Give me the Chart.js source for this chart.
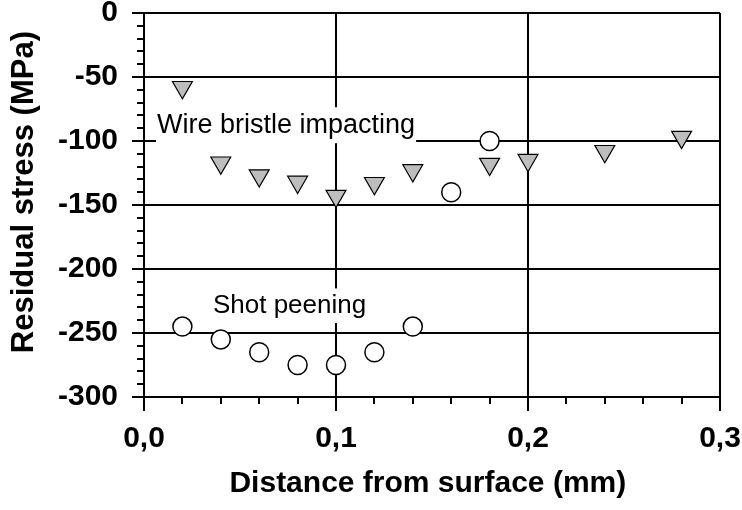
<!DOCTYPE html>
<html lang="en">
<head>
<meta charset="UTF-8">
<title>Residual stress</title>
<script src="https://cdn.jsdelivr.net/npm/chart.js@4.4.1/dist/chart.umd.min.js"></script>
<style>
  html, body { margin: 0; padding: 0; background: #fff; }
  #wrap { width: 742px; height: 510px; }
</style>
</head>
<body>
<div id="wrap"><canvas id="chart"></canvas></div>
<script>
// wire bristle impacting (grey triangles)
const wireX = [0.02, 0.04, 0.06, 0.08, 0.10, 0.12, 0.14, 0.18, 0.20, 0.24, 0.28];
const wireY = [-58, -117, -127, -132, -143, -133, -123, -118, -115, -108, -97];

// shot peening (open circles)
const shotX = [0.02, 0.04, 0.06, 0.08, 0.10, 0.12, 0.14, 0.16, 0.18];
const shotY = [-245, -255, -265, -275, -275, -265, -245, -140, -100];

const xTicks = [0, 0.1, 0.2, 0.3];
const yTicks = [0, -50, -100, -150, -200, -250, -300];

// text written inside the plot, anchored in data units (left edge, baseline)
const notes = [
    { text: 'Wire bristle impacting', x: 0.0068, y: -93.7, size: 27 },
    { text: 'Shot peening', x: 0.0359, y: -234.5, size: 26 }
];

const FONT = '"Liberation Sans", Arial, sans-serif';

const extras = {
    id: 'extras',
    beforeDatasetsDraw(chart) {
        const { ctx, scales: { x, y } } = chart;
        ctx.save();
        notes.forEach(n => {
            ctx.font = n.size + 'px ' + FONT;
            const w = ctx.measureText(n.text).width;
            const px = x.getPixelForValue(n.x);
            const py = y.getPixelForValue(n.y);
            // white box hides the grid lines behind the text
            ctx.fillStyle = '#fff';
            ctx.fillRect(px - 1, py - n.size * 0.95, w + 2, n.size * 1.33);
            ctx.fillStyle = '#000';
            ctx.textBaseline = 'alphabetic';
            ctx.textAlign = 'left';
            ctx.fillText(n.text, px, py);
        });
        ctx.restore();
    },
    afterDraw(chart) {
        const { ctx, chartArea, scales: { x, y } } = chart;
        ctx.save();
        ctx.strokeStyle = '#000';
        ctx.lineWidth = 2;
        ctx.beginPath();
        // minor ticks on x every 0.02
        for (let i = 1; i < 15; i++) {
            if (i % 5 === 0) continue;
            const px = Math.round(x.getPixelForValue(i * 0.02));
            ctx.moveTo(px, chartArea.bottom);
            ctx.lineTo(px, chartArea.bottom + 7);
        }
        // minor ticks on y every 10
        for (let i = 1; i < 30; i++) {
            if (i % 5 === 0) continue;
            const py = Math.round(y.getPixelForValue(-10 * i));
            ctx.moveTo(chartArea.left - 7, py);
            ctx.lineTo(chartArea.left, py);
        }
        ctx.stroke();
        ctx.restore();
    }
};

new Chart(document.getElementById('chart'), {
    type: 'scatter',
    data: {
        datasets: [
            {
                label: 'Wire bristle impacting',
                data: wireX.map((v, i) => ({ x: v, y: wireY[i] })),
                pointStyle: 'triangle',
                rotation: 180,
                pointRadius: 11.5,
                pointHoverRadius: 11.5,
                backgroundColor: '#bdbdbd',
                borderColor: '#000',
                borderWidth: 1.2
            },
            {
                label: 'Shot peening',
                data: shotX.map((v, i) => ({ x: v, y: shotY[i] })),
                pointStyle: 'circle',
                pointRadius: 9.5,
                pointHoverRadius: 9.5,
                backgroundColor: '#fff',
                borderColor: '#000',
                borderWidth: 1.5
            }
        ]
    },
    options: {
        responsive: true,
        maintainAspectRatio: false,
        animation: false,
        events: [],
        layout: { padding: { top: 13, right: 22, bottom: 0, left: 0 } },
        plugins: {
            legend: { display: false },
            tooltip: { enabled: false }
        },
        scales: {
            x: {
                type: 'linear',
                min: 0,
                max: 0.3,
                afterBuildTicks: s => { s.ticks = xTicks.map(v => ({ value: v })); },
                afterFit: s => { s.height = 113; s.paddingLeft = 0; s.paddingRight = 0; },
                ticks: {
                    callback: v => v.toFixed(1).replace('.', ','),
                    color: '#000',
                    font: { family: FONT, size: 30, weight: 'bold' },
                    padding: 10,
                    maxRotation: 0,
                    autoSkip: false
                },
                grid: { color: '#000', lineWidth: 2, tickLength: 14 },
                border: { color: '#000', width: 2 },
                title: {
                    display: true,
                    text: 'Distance from surface (mm) ',
                    color: '#000',
                    font: { family: FONT, size: 30, weight: 'bold' },
                    padding: { top: 0, bottom: 8 }
                }
            },
            y: {
                type: 'linear',
                min: -300,
                max: 0,
                afterBuildTicks: s => { s.ticks = yTicks.map(v => ({ value: v })); },
                afterFit: s => { s.width = 144; s.paddingTop = 0; s.paddingBottom = 0; },
                ticks: {
                    callback: v => String(v),
                    color: '#000',
                    font: { family: FONT, size: 30, weight: 'bold' },
                    padding: 14
                },
                grid: { color: '#000', lineWidth: 2, tickLength: 12 },
                border: { color: '#000', width: 2 },
                title: {
                    display: true,
                    text: '   Residual stress (MPa)',
                    color: '#000',
                    font: { family: FONT, size: 31, weight: 'bold' },
                    padding: { top: 6, bottom: 0 }
                }
            }
        }
    },
    plugins: [extras]
});
</script>
</body>
</html>
